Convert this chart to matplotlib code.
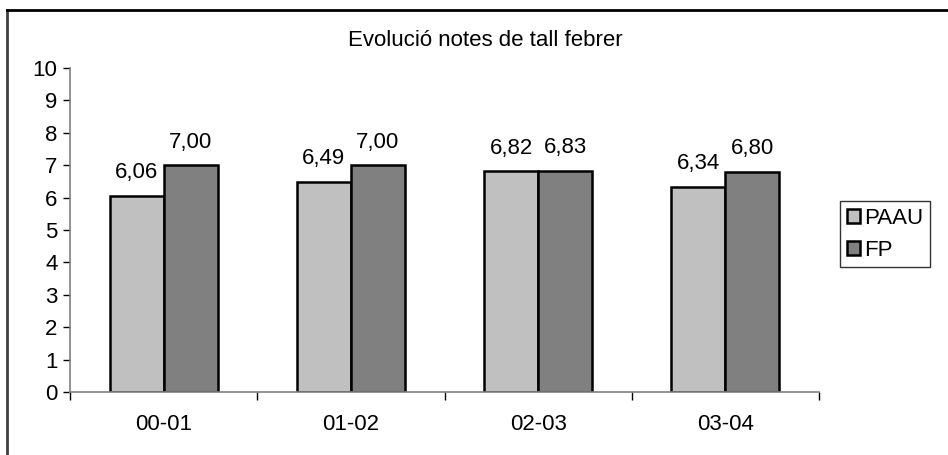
import matplotlib
matplotlib.use("Agg")
import matplotlib.pyplot as plt
import numpy as np

categories = ["00-01", "01-02", "02-03", "03-04"]
paau = [6.06, 6.49, 6.82, 6.34]
fp = [7.00, 7.00, 6.83, 6.80]
series_names = ["PAAU", "FP"]
title = "Evolució notes de tall febrer"

plt.rcParams['font.family'] = ['Liberation Sans', 'DejaVu Sans']
FS = 16
W, H = 948, 455
fig = plt.figure(figsize=(W/100, H/100), dpi=100)

# outer chart border (only left and top visible)
fig.add_artist(plt.Line2D([7/W, 7/W], [0, 1 - 10/H], color='#404040', lw=2, transform=fig.transFigure))
fig.add_artist(plt.Line2D([7/W, 1], [1 - 10/H, 1 - 10/H], color='black', lw=2, transform=fig.transFigure))

ax_l, ax_r, ax_t, ax_b = 70, 819, 68, 392
ax = fig.add_axes([ax_l/W, 1 - ax_b/H, (ax_r-ax_l)/W, (ax_b-ax_t)/H])

x = np.arange(len(categories))
bw = 54/187
b1 = ax.bar(x - bw/2, paau, bw, color='#C0C0C0', edgecolor='black', linewidth=1.8, label=series_names[0])
b2 = ax.bar(x + bw/2, fp, bw, color='#808080', edgecolor='black', linewidth=1.8, label=series_names[1])
for bars, vals in ((b1, paau), (b2, fp)):
    for r, v in zip(bars, vals):
        ax.annotate(f"{v:.2f}".replace('.', ','), (r.get_x() + r.get_width()/2, v),
                    xytext=(0, 9), textcoords='offset points', ha='center', va='bottom', fontsize=FS)

ax.set_xlim(-0.5, len(categories) - 0.5)
ax.set_ylim(0, 10)
ax.set_yticks(range(0, 11))
ax.tick_params(axis='y', direction='out', length=5, width=1, color='black', labelsize=FS, pad=4)
ax.set_xticks(np.arange(-0.5, len(categories), 1.0))
ax.set_xticklabels([])
ax.set_xticks(x, minor=True)
ax.set_xticklabels(categories, minor=True)
ax.tick_params(axis='x', which='major', direction='out', length=6, width=1, color='black')
ax.tick_params(axis='x', which='minor', length=0, labelsize=FS, pad=16)
for s in ['top', 'right']:
    ax.spines[s].set_visible(False)
for s in ['left', 'bottom']:
    ax.spines[s].set_color('#808080')
    ax.spines[s].set_linewidth(1.2)

fig.text(485/W, 1 - 40/H, title, ha='center', va='center', fontsize=FS)

leg = fig.legend(handles=[b1, b2], labels=series_names, loc='upper left',
                 bbox_to_anchor=(840/W, 1 - 201/H), fontsize=FS, frameon=True, fancybox=False,
                 handlelength=0.6, handleheight=0.6, handletextpad=0.2, borderpad=0.3,
                 labelspacing=0.5, borderaxespad=0)
leg.get_frame().set_edgecolor('black')
leg.get_frame().set_linewidth(1)

fig.savefig("out.png", dpi=100)
